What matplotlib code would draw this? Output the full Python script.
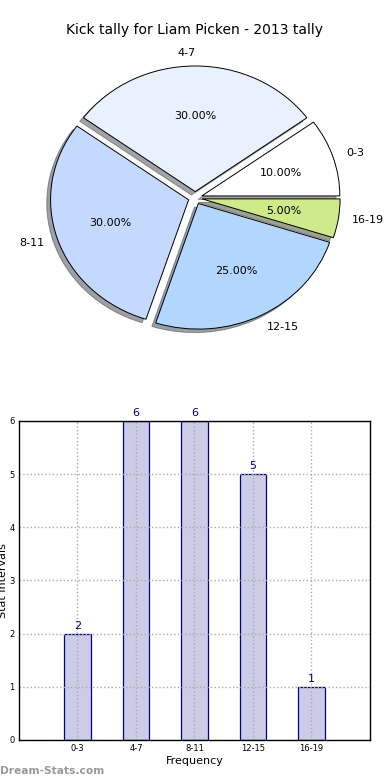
'''
Kick tally chart for Liam Picken (2013): pie on top, bar chart below
'''
import matplotlib
matplotlib.use("Agg")
import matplotlib.pyplot as plt

# data
labels = ["0-3", "4-7", "8-11", "12-15", "16-19"]
counts = [2, 6, 6, 5, 1]
pie_colors = ["#ffffff", "#eaf1fe", "#c5d9ff", "#b3d6ff", "#cfea8a"]
title = "Kick tally for Liam Picken - 2013 tally"


def chart(opath):
    fig = plt.figure(figsize=(3.9, 7.8), dpi=100)

    # pie (old style: not forced to a circle)
    ax = fig.add_axes([0.058, 0.545, 0.885, 0.4026])
    ax.pie(
        counts, labels=labels, colors=pie_colors, autopct="%.2f%%",
        explode=[0.05] * len(counts), shadow=True, startangle=0,
        counterclock=True,
        wedgeprops={"edgecolor": "black", "linewidth": 0.7},
        textprops={"fontsize": 8})
    ax.set_aspect("auto")
    ax.set_xlim(-1.25, 1.25)
    ax.set_ylim(-1.25, 1.25)
    fig.text(0.5, 1 - 30 / 780, title, ha="center", va="center", fontsize=10)

    # bars
    ax2 = fig.add_axes([0.0487, 0.0513, 0.9, 0.409])
    x = list(range(len(labels)))
    ax2.bar(x, counts, width=0.45, color="#cccce6", edgecolor="#000088",
            linewidth=0.9, zorder=1)
    for xi, c in zip(x, counts):
        ax2.text(xi, c + 0.05, str(c), ha="center", va="bottom",
                 fontsize=8, color="#000080")
    ax2.set_xlim(-1, 5)
    ax2.set_ylim(0, 6)
    ax2.set_xticks(x)
    ax2.set_xticklabels(labels)
    ax2.set_yticks(range(7))
    ax2.tick_params(labelsize=6, direction="in", length=0, pad=3)
    ax2.grid(True, linestyle=":", color="#aaaaaa", linewidth=1.0, zorder=3)
    ax2.set_axisbelow(False)
    ax2.set_xlabel("Frequency", fontsize=8, labelpad=2)
    ax2.set_ylabel("Stat Intervals", fontsize=8, labelpad=1)
    for s in ax2.spines.values():
        s.set_linewidth(1.0)
        s.set_zorder(5)

    fig.text(0.0, 1 - 771 / 780, "Dream-Stats.com", ha="left", va="center",
             fontsize=7.7, color="#999999", fontweight="bold")

    plt.savefig(opath, dpi=100)


if __name__ == "__main__":
    chart("out.png")
